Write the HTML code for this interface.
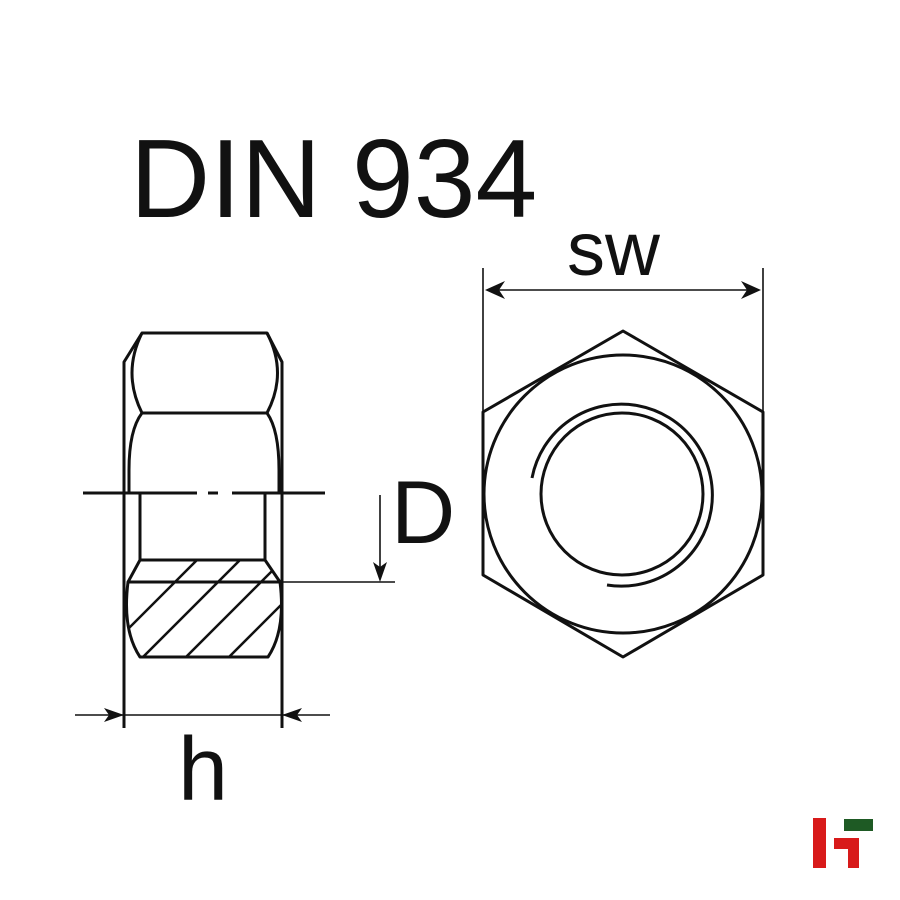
<!DOCTYPE html>
<html><head><meta charset="utf-8"><style>
html,body{margin:0;padding:0;background:#fff;}
svg{display:block;}
text{font-family:"Liberation Sans",sans-serif;fill:#111;}
</style></head><body>
<svg width="900" height="900" viewBox="0 0 900 900" xmlns="http://www.w3.org/2000/svg">
<defs>
<clipPath id="hc"><path d="M140,560 L265,560 L280,582 Q286,630 268,657 L140,657 Q122,630 128,582 Z"/></clipPath>
</defs>
<text x="130" y="217" font-size="111">DIN 934</text>
<text x="567" y="275" font-size="76">sw</text>
<text x="391" y="543" font-size="89">D</text>
<text x="178" y="800" font-size="90">h</text>

<g fill="none" stroke="#111" stroke-width="3" stroke-linejoin="round">
<!-- left view -->
<path d="M124,728 L124,362 L142,333 L267,333 L282,362 L282,728"/>
<path d="M142,333 Q122,373 142,413 L267,413 Q288,373 267,333"/>
<path d="M142,413 Q129,430 129,470 L129,493"/>
<path d="M267,413 Q279,430 279,470 L279,493"/>
<path d="M140,493 L140,560 L265,560 L265,493"/>
<path d="M140,560 L128,582 L280,582 L265,560"/>
<path d="M128,582 Q122,630 140,657 L268,657 Q286,630 280,582"/>
<g clip-path="url(#hc)" stroke-width="2.5">
<line x1="100" y1="700" x2="260" y2="540"/>
<line x1="143" y1="700" x2="303" y2="540"/>
<line x1="186" y1="700" x2="346" y2="540"/>
<line x1="229" y1="700" x2="389" y2="540"/>
<line x1="272" y1="700" x2="432" y2="540"/>
<line x1="57" y1="700" x2="217" y2="540"/>
</g>
<path d="M83,493 L197,493 M208,493 L218,493 M232,493 L325,493"/>
<!-- right view -->
<path d="M623,331 L763,412 L763,575 L623,657 L483,575 L483,412 Z"/>
<circle cx="623" cy="494" r="139"/>
<circle cx="622" cy="494" r="81"/>
<path d="M532,478 A91,91 0 1 1 607,585"/>
</g>

<g fill="none" stroke="#111" stroke-width="1.6">
<line x1="280" y1="582" x2="395" y2="582"/>
<line x1="380" y1="495" x2="380" y2="578"/>
<line x1="75" y1="715" x2="330" y2="715"/>
<line x1="483" y1="268" x2="483" y2="412"/>
<line x1="763" y1="268" x2="763" y2="412"/>
<line x1="487" y1="290" x2="759" y2="290"/>
</g>
<g fill="#111">
<path d="M380,582 L373,562 L380,567 L387,562 Z"/>
<path d="M124,715 L104,708 L109,715 L104,722 Z"/>
<path d="M282,715 L302,708 L297,715 L302,722 Z"/>
<path d="M485,290 L505,281 L499,290 L505,299 Z"/>
<path d="M761,290 L741,281 L747,290 L741,299 Z"/>
</g>

<rect x="813" y="818" width="13" height="50" fill="#d81a1a"/>
<rect x="844" y="819" width="29" height="12" fill="#1e5a24"/>
<path d="M834,838 L859,838 L859,868 L848,868 L848,849 L834,849 Z" fill="#d81a1a"/>
</svg>
</body></html>
